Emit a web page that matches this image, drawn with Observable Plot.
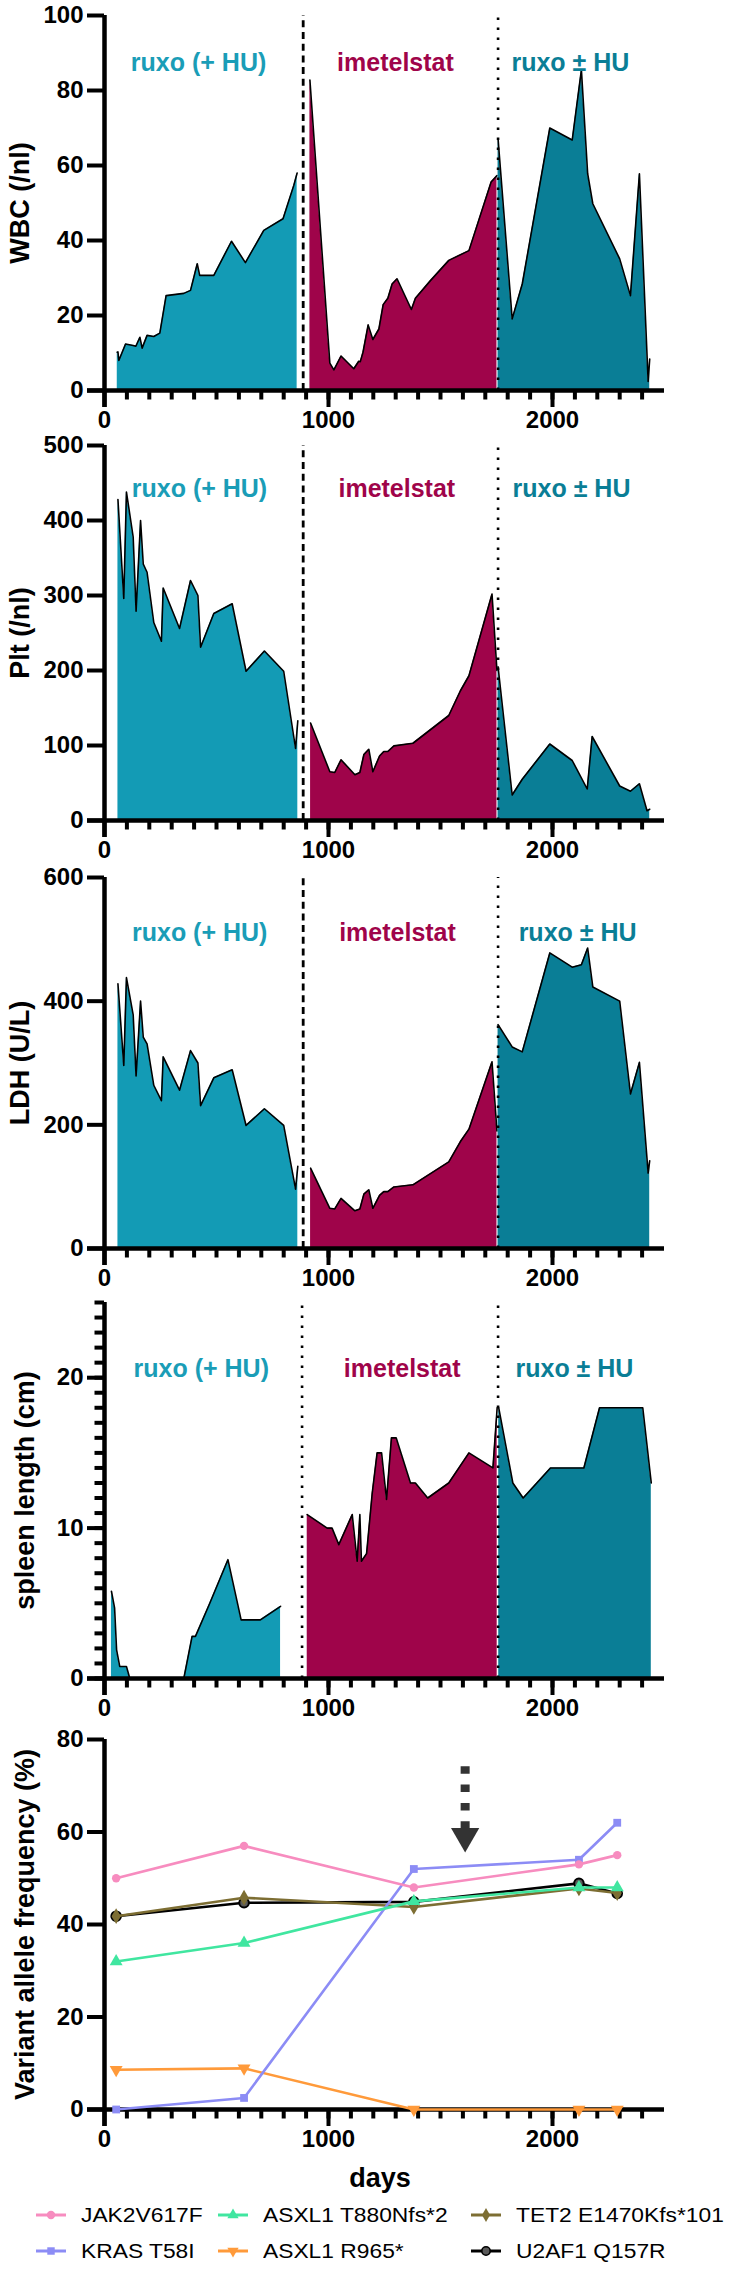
<!DOCTYPE html>
<html><head><meta charset="utf-8">
<script src="https://cdn.jsdelivr.net/npm/d3@7"></script>
<script src="https://cdn.jsdelivr.net/npm/@observablehq/plot@0.6"></script>
<style>
body{margin:0;background:#fff;width:735px;height:2269px;position:relative;overflow:hidden;font-family:"Liberation Sans",Arial,sans-serif;}
.panel{position:absolute;left:0;}
.leg{position:absolute;display:flex;align-items:center;font-size:20px;color:#000;white-space:nowrap;}
.leg span{display:inline-block;transform:scaleX(1.14);transform-origin:0 50%;}
</style></head><body>
<script>
// ---------- data ----------
const treatmentNames = ["ruxo (+ HU)", "imetelstat", "ruxo \u00b1 HU"];
const switchDays = [887, 1757];

// WBC (/nl)
const wbcDays1 = [57,60,64,94,128,140,158,168,190,220,247,275,354,384,414,425,488,567,629,711,797,845,860];
const wbcVals1 = [10.2,10.3,8,12.4,12,11.8,14.2,11.3,14.7,14.4,15.3,25.3,25.9,26.7,33.8,30.7,30.7,39.8,34.1,42.7,45.8,54.7,58];
const wbcDays2 = [917,1006,1024,1056,1113,1135,1142,1154,1177,1198,1225,1244,1265,1284,1306,1370,1388,1455,1537,1627,1726,1752];
const wbcVals2 = [82.8,7.3,5.5,9.2,5.8,7.8,7.7,10.2,17.5,13.6,16.4,22.9,24.6,28.4,29.8,21.6,24.6,29.3,34.7,37.3,55.6,57.3];
const wbcDays3 = [1757,1820,1865,1988,2088,2129,2157,2180,2300,2348,2388,2427,2434];
const wbcVals3 = [67.1,19.1,28.4,70,66.8,85.5,57.8,49.8,35.1,25.3,57.8,2.4,8.4];

// Plt (/nl)
const pltDays1 = [60,86,98,128,141,161,173,190,220,254,262,335,384,417,429,488,570,632,714,800,853,863];
const pltVals1 = [428,296,438,378,279,400,342,331,264,239,310,256,320,300,231,276,289,199,226,199,96,133];
const pltDays2 = [920,1006,1028,1056,1118,1140,1158,1180,1198,1228,1247,1265,1292,1377,1537,1589,1627,1730,1752];
const pltVals2 = [130,65,64,81,61,64,88,95,65,86,92,92,99.5,103,140,173,193,302,200];
const pltDays3 = [1757,1820,1865,1988,2088,2155,2177,2300,2348,2388,2422,2434];
const pltVals3 = [205,34,55,102,80,42,112,46,39,49,13,15];

// LDH (U/L)
const ldhDays1 = [60,86,98,128,141,161,173,190,220,254,262,335,384,417,429,488,570,632,714,800,853,863];
const ldhVals1 = [428,296,438,378,279,400,342,331,264,239,310,256,320,300,231,276,289,199,226,199,96,133];
const ldhDays2 = [920,1006,1028,1056,1118,1140,1158,1180,1198,1228,1247,1265,1292,1377,1537,1589,1627,1730,1752];
const ldhVals2 = [130,65,64,81,61,64,88,95,65,86,92,92,99.5,103,140,173,193,302,190];
const ldhDays3 = [1757,1820,1865,1988,2088,2129,2157,2180,2300,2348,2388,2427,2434];
const ldhVals3 = [362,326,318,478,455,459,486,423,400,250,301,122,142];

// spleen length (cm)
const splDays1 = [31,45,54,68,98,113,354,391,406,470,551,610,696,786];
const splVals1 = [5.8,4.7,1.9,0.8,0.8,0,0,2.8,2.8,5,7.9,3.9,3.9,4.8];
const splDays2 = [905,994,1016,1046,1106,1128,1140,1147,1170,1195,1217,1237,1259,1281,1302,1366,1388,1443,1537,1627,1734,1753];
const splVals2 = [10.9,10,10,8.9,10.9,7.8,10.9,7.8,8.3,12.3,15,15,11.9,16,16,13,13,12,13,15,14,18];
const splDays3 = [1760,1823,1869,1991,2140,2210,2403,2441];
const splVals3 = [18,13,12,14,14,18,18,13];

// Variant allele frequency (%)
const vafDays = [52, 623, 1381, 2118, 2289];
const vafJAK2 = [50, 57, 48, 53, 55];
const vafKRAS = [0, 2.5, 52, 54, 62];
const vafASXL1a = [32, 36, 45, 48, 48];
const vafASXL1b = [8.6, 8.9, 0, 0, 0];
const vafTET2 = [41.8, 45.8, 43.8, 47.8, 46.8];
const vafU2AF1 = [41.8, 44.7, 44.9, 48.9, 46.7];
const arrowDay = 1610, arrowTop = 74.1, arrowHead = 59.1;

const xMajor = [0, 1000, 2000];
const xMinor = d3.range(100, 2500, 100);
const xMax = 2500;

// ---------- layout / styles ----------
const FONT = '"Liberation Sans", Arial, Helvetica, sans-serif';
const segFill = ["#139bb5", "#9f044a", "#0a7e96"];
const labelFill = ["#1a9db7", "#9f044a", "#0a7e96"];
const W = 735, ML = 87, MR = 71;
const MAJOR = 17, MINOR = 9.5;                       // tick lengths in px (from axis centre)
const PX_PER_DAY = (W - ML - MR - MAJOR) / xMax;
const xTickLeft = -MAJOR / PX_PER_DAY;
const xTickMinorLeft = -MINOR / PX_PER_DAY;

function axesMarks(yMax, ph, yTicks, yMinor) {
  const u = yMax / ph; // data units per px
  const m = [];
  m.push(Plot.ruleY([0], {x1: xTickLeft, x2: xMax, stroke: "black", strokeWidth: 4.5}));
  m.push(Plot.ruleX([0], {y1: -MAJOR * u, y2: yMax, stroke: "black", strokeWidth: 4.5}));
  m.push(Plot.ruleX(xMinor, {y1: 0, y2: -MINOR * u, stroke: "black", strokeWidth: 4}));
  m.push(Plot.ruleX(xMajor, {y1: 0, y2: -MAJOR * u, stroke: "black", strokeWidth: 4}));
  m.push(Plot.axisX(xMajor, {tickSize: 0, tickPadding: 3, tickFormat: d => String(d), fontSize: 24, fontWeight: "bold", label: null}));
  if (yMinor) m.push(Plot.ruleY(yMinor, {x1: xTickMinorLeft, x2: 0, stroke: "black", strokeWidth: 4}));
  m.push(Plot.ruleY(yTicks, {x1: xTickLeft, x2: 0, stroke: "black", strokeWidth: 4}));
  m.push(Plot.axisY(yTicks, {tickSize: 0, tickPadding: 4, tickFormat: d => String(d), fontSize: 24, fontWeight: "bold", label: null}));
  return m;
}

function makePlot(cfg, marks) {
  const u = cfg.yMax / cfg.ph;
  const plot = Plot.plot({
    width: W, height: cfg.mt + cfg.ph + cfg.mb,
    marginLeft: ML, marginRight: MR, marginTop: cfg.mt, marginBottom: cfg.mb - MAJOR,
    x: {domain: [xTickLeft, xMax]},
    y: {domain: [-MAJOR * u, cfg.yMax]},
    style: {fontFamily: FONT, overflow: "visible", background: "transparent", color: "black"},
    marks
  });
  plot.classList.add("panel");
  plot.style.top = cfg.top + "px";
  plot.style.position = "absolute";
  document.body.appendChild(plot);
}

function addPanel(cfg) {
  const marks = [];
  cfg.segs.forEach((s, i) => {
    const data = s[0].map((d, j) => ({day: d, v: s[1][j]}));
    marks.push(Plot.areaY(data, {x: "day", y1: 0, y2: "v", fill: segFill[i]}));
    marks.push(Plot.line(data, {x: "day", y: "v", stroke: "black", strokeWidth: 1.6}));
  });
  marks.push(Plot.ruleX([cfg.switch1], {y1: 0, y2: cfg.yMax, stroke: "black", strokeWidth: cfg.dotted1 ? 2.6 : 2.8, strokeDasharray: cfg.dotted1 ? "2.6,7.4" : "7,4.7"}));
  marks.push(Plot.ruleX([switchDays[1]], {y1: 0, y2: cfg.yMax, stroke: "black", strokeWidth: 2.6, strokeDasharray: "2.6,7.4"}));
  cfg.labelDays.forEach((d, i) => {
    marks.push(Plot.text([treatmentNames[i]], {x: () => d, text: t => t, frameAnchor: "top", textAnchor: "middle", dy: cfg.labelDy, fill: labelFill[i], fontSize: 25, fontWeight: "bold"}));
  });
  marks.push(...axesMarks(cfg.yMax, cfg.ph, cfg.yTicks, cfg.yMinor));
  marks.push(Plot.text([cfg.yLabel], {text: t => t, x: () => xTickLeft, y: () => cfg.yMax / 2, textAnchor: "middle", lineAnchor: "middle", dx: -(ML - cfg.ylabX), rotate: -90, fontSize: 27, fontWeight: "bold"}));
  makePlot(cfg, marks);
}

addPanel({top: 0, mt: 15, ph: 375, mb: 40, yMax: 100, yTicks: [0,20,40,60,80,100], yLabel: "WBC (/nl)", ylabX: 20,
  labelDy: 38, labelDays: [420, 1299, 2080], switch1: switchDays[0],
  segs: [[wbcDays1, wbcVals1], [wbcDays2, wbcVals2], [wbcDays3, wbcVals3]]});
addPanel({top: 430, mt: 15, ph: 375, mb: 42, yMax: 500, yTicks: [0,100,200,300,400,500], yLabel: "Plt (/nl)", ylabX: 20,
  labelDy: 34, labelDays: [424, 1305, 2085], switch1: switchDays[0],
  segs: [[pltDays1, pltVals1], [pltDays2, pltVals2], [pltDays3, pltVals3]]});
addPanel({top: 862, mt: 15, ph: 371, mb: 39, yMax: 600, yTicks: [0,200,400,600], yLabel: "LDH (U/L)", ylabX: 20,
  labelDy: 46, labelDays: [425, 1308, 2112], switch1: switchDays[0],
  segs: [[ldhDays1, ldhVals1], [ldhDays2, ldhVals2], [ldhDays3, ldhVals3]]});
addPanel({top: 1287, mt: 15, ph: 376, mb: 45, yMax: 25, yTicks: [0,10,20], yMinor: d3.range(0, 26), yLabel: "spleen length (cm)", ylabX: 25,
  labelDy: 57, labelDays: [432, 1329, 2098], switch1: 882, dotted1: true,
  segs: [[splDays1, splVals1], [splDays2, splVals2], [splDays3, splVals3]]});

// VAF panel
const series = [
  {name: "U2AF1 Q157R", vals: vafU2AF1, color: "#000000", symbol: "circle", rotate: 0, r: 4.8, fill: "#5a5a5a", stroke: "#000"},
  {name: "TET2 E1470Kfs*101", vals: vafTET2, color: "#7d6e33", symbol: "diamond", rotate: 0, r: 4.8},
  {name: "ASXL1 R965*", vals: vafASXL1b, color: "#ff9a3a", symbol: "triangle", rotate: 180, r: 4.8},
  {name: "KRAS T58I", vals: vafKRAS, color: "#8c8cf5", symbol: "square", rotate: 0, r: 4.4},
  {name: "ASXL1 T880Nfs*2", vals: vafASXL1a, color: "#40e6a0", symbol: "triangle", rotate: 0, r: 4.8},
  {name: "JAK2V617F", vals: vafJAK2, color: "#f78cbf", symbol: "circle", rotate: 0, r: 4.2}
];
{
  const cfg = {top: 1724, mt: 15, ph: 370, mb: 90, yMax: 80};
  const marks = [];
  marks.push(...axesMarks(80, 370, [0,20,40,60,80], null));
  series.forEach(s => {
    const data = vafDays.map((d, i) => ({day: d, v: s.vals[i]}));
    marks.push(Plot.line(data, {x: "day", y: "v", stroke: s.color, strokeWidth: 2.6}));
    marks.push(Plot.dot(data, {x: "day", y: "v", symbol: s.symbol, rotate: s.rotate, r: s.r,
      fill: s.fill || s.color, stroke: s.stroke || "none", strokeWidth: s.stroke ? 2 : 0}));
  });
  marks.push(Plot.ruleX([{x: arrowDay, y1: arrowTop, y2: 60.2}], {x: "x", y1: "y1", y2: "y2", stroke: "#333", strokeWidth: 9, strokeDasharray: "7.5,10.8"}));
  marks.push(Plot.dot([{x: arrowDay, y: arrowHead}], {x: "x", y: "y", symbol: "triangle", rotate: 180, r: 10.5, fill: "#333"}));
  marks.push(Plot.text(["Variant allele frequency (%)"], {text: t => t, x: () => xTickLeft, y: () => 40, textAnchor: "middle", lineAnchor: "middle", dx: -(ML - 25), rotate: -90, fontSize: 27, fontWeight: "bold"}));
  marks.push(Plot.text(["days"], {text: t => t, x: () => 1230, y: () => 0, textAnchor: "middle", lineAnchor: "middle", dy: 69, fontSize: 27, fontWeight: "bold"}));
  makePlot(cfg, marks);
}

// legend
const legendOrder = [
  ["JAK2V617F", 35, 2215], ["ASXL1 T880Nfs*2", 217, 2215], ["TET2 E1470Kfs*101", 470, 2215],
  ["KRAS T58I", 35, 2251], ["ASXL1 R965*", 217, 2251], ["U2AF1 Q157R", 470, 2251]
];
const symbolTypes = {circle: d3.symbolCircle, square: d3.symbolSquare, triangle: d3.symbolTriangle, diamond: d3.symbolDiamond};
legendOrder.forEach(([name, lx, ly]) => {
  const s = series.find(q => q.name === name);
  const div = document.createElement("div");
  div.className = "leg";
  div.style.left = lx + "px";
  div.style.top = (ly - 13) + "px";
  div.style.height = "26px";
  const sym = d3.symbol(symbolTypes[s.symbol], Math.PI * 4.2 * 4.2)();
  const svg = `<svg width="32" height="14" style="overflow:visible;margin-right:14px"><line x1="1" x2="31" y1="7" y2="7" stroke="${s.color}" stroke-width="3"/><path d="${sym}" transform="translate(16,7) rotate(${s.rotate})" fill="${s.fill || s.color}" stroke="${s.stroke || 'none'}" stroke-width="${s.stroke ? 1.6 : 0}"/></svg>`;
  div.innerHTML = svg + `<span>${name}</span>`;
  document.body.appendChild(div);
});
</script>
</body></html>
